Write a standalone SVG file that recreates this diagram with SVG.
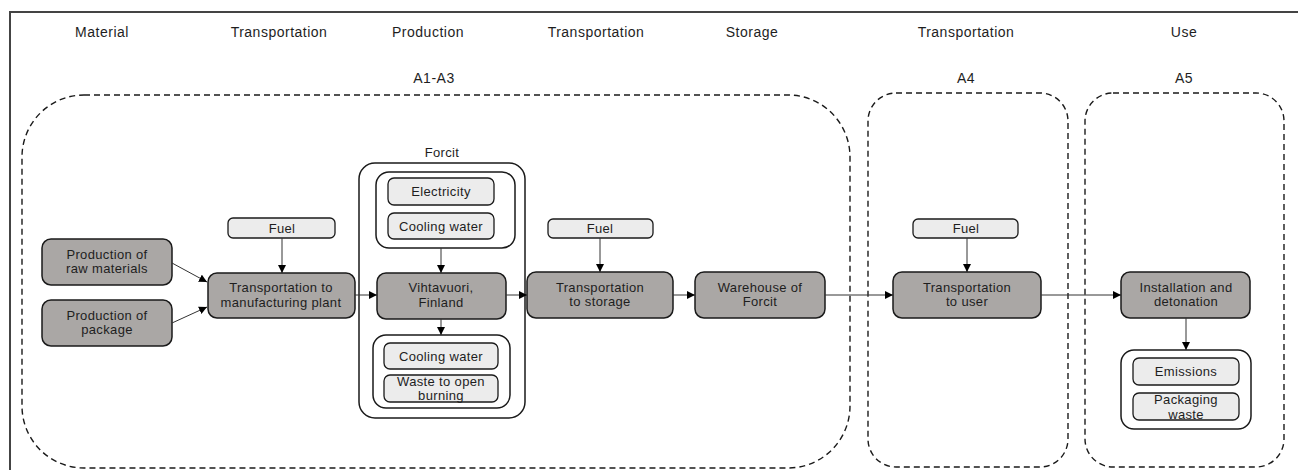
<svg xmlns="http://www.w3.org/2000/svg" width="1298" height="470" viewBox="0 0 1298 470">
<defs>
<marker id="ah" viewBox="0 0 10 10" refX="10" refY="5" markerWidth="8" markerHeight="8" markerUnits="userSpaceOnUse" orient="auto">
<path d="M0,0 L10,5 L0,10 z" fill="#000"/>
</marker>
<style>
text{font-family:"Liberation Sans",Arial,sans-serif;fill:#1e1e1e;text-anchor:middle}
.hd{font-size:14px;letter-spacing:0.5px}
.bx{font-size:13px;letter-spacing:0.35px}
.dark{fill:#aaa7a5;stroke:#1a1a1a;stroke-width:1.5}
.light{fill:#ececec;stroke:#1a1a1a;stroke-width:1.3}
.grp{fill:#fff;stroke:#1a1a1a;stroke-width:1.5}
.dash{fill:none;stroke:#1a1a1a;stroke-width:1.4;stroke-dasharray:6 4}
.cn{fill:none;stroke:#333;stroke-width:1;marker-end:url(#ah)}
</style>
</defs>
<rect width="1298" height="470" fill="#fff"/>
<path d="M10,470 V12 H1298" fill="none" stroke="#444" stroke-width="2"/>

<g id="headers">
<text class="hd" x="102" y="37">Material</text>
<text class="hd" x="279" y="37">Transportation</text>
<text class="hd" x="428" y="37">Production</text>
<text class="hd" x="596" y="37">Transportation</text>
<text class="hd" x="752" y="37">Storage</text>
<text class="hd" x="966" y="37">Transportation</text>
<text class="hd" x="1184" y="37">Use</text>
<text class="hd" x="434" y="83">A1-A3</text>
<text class="hd" x="966" y="83">A4</text>
<text class="hd" x="1184" y="83">A5</text>
</g>

<g id="stages">
<rect class="dash" x="22" y="95" width="828" height="373" rx="62"/>
<rect class="dash" x="868" y="93" width="200" height="374" rx="28"/>
<rect class="dash" x="1085" y="93" width="199" height="374" rx="28"/>
</g>

<g id="raw-materials">
<rect class="dark" x="42" y="239" width="130" height="46" rx="9"/>
<text class="bx" x="107" y="258.5">Production of</text>
<text class="bx" x="107" y="273">raw materials</text>
</g>
<g id="package">
<rect class="dark" x="42" y="300" width="130" height="46" rx="9"/>
<text class="bx" x="107" y="319.5">Production of</text>
<text class="bx" x="107" y="334">package</text>
</g>
<g id="fuel1">
<rect class="light" x="228" y="218" width="107" height="20" rx="5"/>
<text class="bx" x="282" y="232.5">Fuel</text>
</g>
<g id="transport-plant">
<rect class="dark" x="208" y="273" width="147" height="45" rx="9"/>
<text class="bx" x="281" y="292">Transportation to</text>
<text class="bx" x="281" y="306.5">manufacturing plant</text>
</g>

<g id="forcit">
<text class="bx" x="442" y="157">Forcit</text>
<rect class="grp" x="359" y="163" width="166" height="255" rx="16"/>
</g>
<g id="forcit-inputs">
<rect class="grp" x="376" y="172" width="139" height="76" rx="13"/>
<rect class="light" x="388" y="178" width="106" height="27" rx="6"/>
<text class="bx" x="441" y="196">Electricity</text>
<rect class="light" x="388" y="213" width="106" height="26" rx="6"/>
<text class="bx" x="441" y="230.5">Cooling water</text>
</g>
<g id="vihtavuori">
<rect class="dark" x="377" y="273" width="129" height="46" rx="9"/>
<text class="bx" x="441" y="292">Vihtavuori,</text>
<text class="bx" x="441" y="306.5">Finland</text>
</g>
<g id="forcit-outputs">
<rect class="grp" x="373" y="335" width="137" height="73" rx="13"/>
<rect class="light" x="384" y="343" width="114" height="26" rx="6"/>
<text class="bx" x="441" y="360.5">Cooling water</text>
<rect class="light" x="384" y="375" width="114" height="27" rx="6"/>
<text class="bx" x="441" y="385.5">Waste to open</text>
<text class="bx" x="441" y="400">burning</text>
</g>

<g id="fuel2">
<rect class="light" x="548" y="219" width="105" height="19" rx="5"/>
<text class="bx" x="600" y="233">Fuel</text>
</g>
<g id="transport-storage">
<rect class="dark" x="527" y="272" width="146" height="46" rx="9"/>
<text class="bx" x="600" y="291.5">Transportation</text>
<text class="bx" x="600" y="306">to storage</text>
</g>
<g id="warehouse">
<rect class="dark" x="695" y="272" width="130" height="46" rx="9"/>
<text class="bx" x="760" y="291.5">Warehouse of</text>
<text class="bx" x="760" y="306">Forcit</text>
</g>

<g id="fuel3">
<rect class="light" x="913" y="219" width="105" height="19" rx="5"/>
<text class="bx" x="966" y="233">Fuel</text>
</g>
<g id="transport-user">
<rect class="dark" x="893" y="272" width="148" height="46" rx="9"/>
<text class="bx" x="967" y="291.5">Transportation</text>
<text class="bx" x="967" y="306">to user</text>
</g>
<g id="installation">
<rect class="dark" x="1121" y="272" width="129" height="46" rx="9"/>
<text class="bx" x="1186" y="291.5">Installation and</text>
<text class="bx" x="1186" y="306">detonation</text>
</g>
<g id="use-outputs">
<rect class="grp" x="1121" y="350" width="130" height="79" rx="13"/>
<rect class="light" x="1133" y="358" width="106" height="27" rx="6"/>
<text class="bx" x="1186" y="376">Emissions</text>
<rect class="light" x="1133" y="393" width="106" height="27" rx="6"/>
<text class="bx" x="1186" y="404">Packaging</text>
<text class="bx" x="1186" y="418.5">waste</text>
</g>

<g id="connectors">
<path class="cn" d="M172,263 L207,282"/>
<path class="cn" d="M172,323 L207,307"/>
<path class="cn" d="M282,238 V273"/>
<path class="cn" d="M355,295 H377"/>
<path class="cn" d="M441,248 V273"/>
<path class="cn" d="M441,319 V335"/>
<path class="cn" d="M506,295 H527"/>
<path class="cn" d="M600,238 V272"/>
<path class="cn" d="M673,295 H695"/>
<path class="cn" d="M825,295 H893"/>
<path class="cn" d="M967,238 V272"/>
<path class="cn" d="M1041,295 H1121"/>
<path class="cn" d="M1186,318 V350"/>
</g>
</svg>
